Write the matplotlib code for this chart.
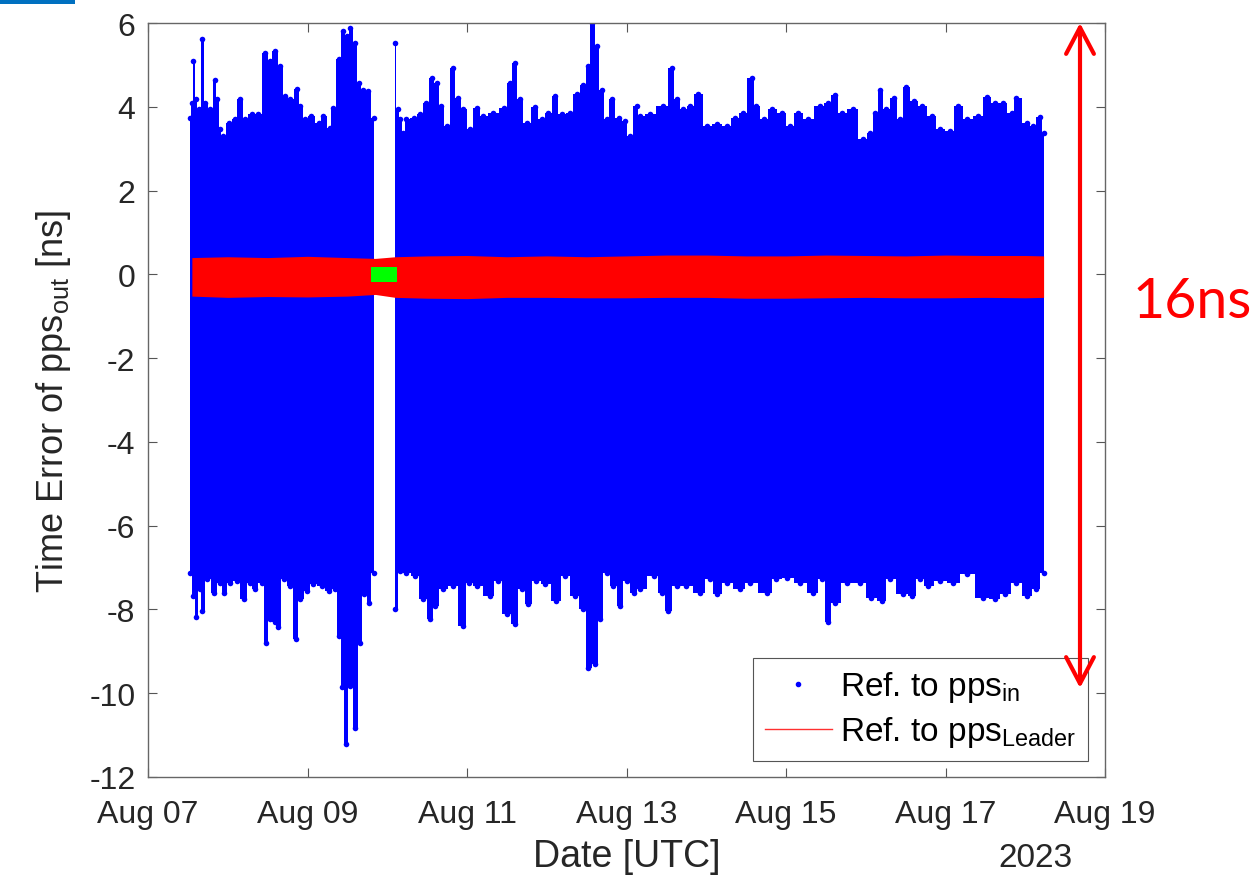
import numpy as np
import matplotlib
matplotlib.use('Agg')
import matplotlib.pyplot as plt
import matplotlib.dates as mdates
from matplotlib.patches import FancyArrowPatch, Rectangle
from matplotlib.lines import Line2D
from datetime import datetime

plt.rcParams['font.family'] = ['Liberation Sans', 'DejaVu Sans']
plt.rcParams['mathtext.fontset'] = 'custom'
plt.rcParams['mathtext.rm'] = 'Liberation Sans'
plt.rcParams['mathtext.it'] = 'Liberation Sans:italic'
plt.rcParams['mathtext.default'] = 'regular'
plt.rcParams['axes.unicode_minus'] = False

# time axis: day of August 2023 (UTC), values in ns
# blue scatter (ref. to pps_in): upper / lower envelope, before and after the data gap
up1_day = [7.53, 7.55, 7.57, 7.60, 7.64, 7.68, 7.72, 7.78, 7.84, 7.87,
           7.90, 7.94, 8.01, 8.09, 8.15, 8.22, 8.30, 8.38, 8.47, 8.53,
           8.59, 8.66, 8.72, 8.78, 8.87, 8.91, 8.97, 9.05, 9.14, 9.20,
           9.28, 9.32, 9.39, 9.45, 9.50, 9.53, 9.60, 9.64, 9.70, 9.76, 9.83]
up1_val = [3.74, 4.10, 5.09, 4.18, 3.94, 5.62, 4.10, 3.94, 4.65, 4.18,
           3.46, 3.30, 3.62, 3.70, 4.18, 3.70, 3.82, 3.82, 5.29, 5.09,
           5.33, 4.97, 4.26, 4.18, 4.43, 4.02, 3.70, 3.78, 3.62, 3.78,
           3.50, 3.98, 5.13, 5.81, 5.69, 5.89, 5.53, 4.57, 4.41, 4.37, 3.74]

up2_day = [10.10, 10.13, 10.16, 10.20, 10.24, 10.33, 10.41, 10.49, 10.56, 10.62,
           10.68, 10.75, 10.82, 10.89, 10.95, 11.04, 11.12, 11.20, 11.33, 11.46,
           11.54, 11.60, 11.66, 11.75, 11.85, 11.94, 12.02, 12.10, 12.19, 12.29,
           12.38, 12.46, 12.52, 12.57, 12.63, 12.69, 12.75, 12.82, 12.90, 12.98,
           13.04, 13.13, 13.17, 13.29, 13.46, 13.57, 13.63, 13.71, 13.80, 13.90,
           14.01, 14.13, 14.26, 14.36, 14.46, 14.57, 14.63, 14.72, 14.82, 14.95,
           15.05, 15.15, 15.28, 15.43, 15.53, 15.61, 15.70, 15.84, 15.97, 16.05,
           16.12, 16.18, 16.26, 16.35, 16.43, 16.51, 16.60, 16.70, 16.83, 16.93,
           17.06, 17.16, 17.27, 17.41, 17.52, 17.62, 17.72, 17.83, 17.89, 18.02,
           18.10, 18.18, 18.23]
up2_val = [5.53, 3.94, 3.70, 3.38, 3.70, 3.74, 3.82, 4.10, 4.69, 4.57,
           4.02, 3.54, 4.93, 4.22, 3.94, 3.46, 3.98, 3.78, 3.86, 3.98,
           4.57, 5.05, 4.18, 3.62, 4.00, 3.70, 3.86, 4.26, 3.82, 3.86,
           4.30, 4.53, 4.97, 6.01, 5.45, 4.41, 3.70, 4.18, 3.74, 3.66,
           3.30, 4.02, 3.78, 3.82, 4.02, 4.93, 4.18, 3.94, 4.02, 4.30,
           3.54, 3.58, 3.54, 3.74, 3.86, 4.69, 4.02, 3.70, 3.94, 3.86,
           3.54, 3.86, 3.70, 4.03, 4.10, 4.27, 3.86, 3.94, 3.22, 3.38,
           3.86, 4.41, 3.94, 4.22, 3.70, 4.48, 4.14, 4.02, 3.78, 3.46,
           3.42, 4.02, 3.70, 3.78, 4.24, 4.10, 4.10, 3.86, 4.22, 3.62,
           3.54, 3.76, 3.38]

lo1_day = [7.53, 7.57, 7.60, 7.65, 7.68, 7.74, 7.83, 7.90, 7.95, 8.03,
           8.11, 8.20, 8.28, 8.34, 8.43, 8.48, 8.53, 8.59, 8.63, 8.70,
           8.78, 8.85, 8.91, 8.99, 9.07, 9.18, 9.27, 9.34, 9.40, 9.43,
           9.48, 9.53, 9.60, 9.66, 9.71, 9.77, 9.83]
lo1_val = [-7.12, -7.68, -8.19, -7.52, -8.04, -7.28, -7.60, -7.36, -7.60, -7.36,
           -7.32, -7.76, -7.36, -7.52, -7.36, -8.79, -8.23, -8.31, -8.43, -7.28,
           -7.44, -8.71, -7.76, -7.56, -7.40, -7.44, -7.56, -7.52, -8.63, -9.86,
           -11.22, -9.82, -10.82, -8.79, -7.64, -7.84, -7.12]

lo2_day = [10.10, 10.16, 10.24, 10.35, 10.45, 10.54, 10.60, 10.70, 10.83, 10.95,
           11.02, 11.12, 11.29, 11.39, 11.50, 11.60, 11.69, 11.77, 11.87, 11.98,
           12.12, 12.23, 12.35, 12.46, 12.52, 12.61, 12.67, 12.75, 12.83, 12.92,
           13.00, 13.09, 13.17, 13.34, 13.44, 13.52, 13.63, 13.75, 13.92, 14.05,
           14.13, 14.26, 14.42, 14.55, 14.76, 14.88, 15.01, 15.18, 15.34, 15.45,
           15.53, 15.61, 15.76, 15.93, 16.07, 16.20, 16.30, 16.47, 16.58, 16.68,
           16.78, 16.93, 17.10, 17.27, 17.47, 17.62, 17.75, 17.89, 18.02, 18.14, 18.23]
lo2_val = [-8.00, -7.08, -7.12, -7.20, -7.76, -8.23, -7.92, -7.52, -7.44, -8.39,
           -7.36, -7.44, -7.68, -7.32, -8.11, -8.35, -7.52, -7.88, -7.32, -7.40,
           -7.80, -7.20, -7.68, -8.00, -9.39, -9.31, -8.23, -7.12, -7.44, -7.92,
           -7.32, -7.60, -7.52, -7.20, -7.60, -8.04, -7.44, -7.44, -7.60, -7.28,
           -7.64, -7.36, -7.52, -7.36, -7.60, -7.28, -7.24, -7.36, -7.60, -7.28,
           -8.31, -7.84, -7.36, -7.36, -7.72, -7.80, -7.28, -7.64, -7.68, -7.28,
           -7.44, -7.32, -7.36, -7.16, -7.72, -7.76, -7.64, -7.36, -7.68, -7.52, -7.12]

# red band (ref. to pps_Leader)
red_day = [7.55, 8.00, 8.50, 9.00, 9.50, 9.85, 10.10, 10.50, 11.00, 11.50, 12.00,
           12.50, 13.00, 13.50, 14.00, 14.50, 15.00, 15.50, 16.00, 16.50, 17.00,
           17.50, 18.00, 18.23]
red_hi = [0.40, 0.42, 0.40, 0.43, 0.40, 0.38, 0.42, 0.44, 0.45, 0.42, 0.44,
          0.42, 0.44, 0.46, 0.46, 0.44, 0.44, 0.46, 0.45, 0.44, 0.46,
          0.45, 0.45, 0.44]
red_lo = [-0.52, -0.55, -0.53, -0.54, -0.52, -0.48, -0.55, -0.57, -0.58, -0.55, -0.55,
          -0.56, -0.56, -0.55, -0.55, -0.57, -0.57, -0.56, -0.55, -0.56, -0.56,
          -0.55, -0.56, -0.55]

# green patch during the gap
green_day = [9.80, 10.12]
green_hi = [0.17, 0.17]
green_lo = [-0.19, -0.19]

yticks = np.arange(-12, 7, 2)
xtick_days = np.arange(7, 20, 2)

aug0 = mdates.date2num(datetime(2023, 7, 31))


def to_num(days):
    return aug0 + np.asarray(days, dtype=float)


W, H = 1254, 879
fig = plt.figure(figsize=(W / 100, H / 100), dpi=100)
ax = fig.add_axes([148 / W, 1 - 778 / H, 957 / W, 754 / H])

blue = '#0000ff'
for t, v in [(up1_day, up1_val), (up2_day, up2_val), (lo1_day, lo1_val), (lo2_day, lo2_val)]:
    ax.fill_between(to_num(t), 0, v, step='mid', color=blue, lw=0, zorder=2)
    ax.scatter(to_num(t), v, s=16, color=blue, lw=0, zorder=2)

ax.fill_between(to_num(red_day), red_lo, red_hi, color='#ff0000', lw=0, zorder=3)
ax.fill_between(to_num(green_day), green_lo, green_hi, color='#00ff00', lw=0, zorder=4)

ax.set_xlim(to_num(7), to_num(19))
ax.set_ylim(-12, 6)
ax.set_xticks(to_num(xtick_days))
ax.set_yticks(yticks)
ax.xaxis.set_major_formatter(mdates.DateFormatter('%b %d'))

for s in ax.spines.values():
    s.set_color('#666666')
    s.set_linewidth(1.0)
ax.tick_params(direction='in', length=6.5, width=0.8, color='#555555',
               labelsize=23, labelcolor='#262626', top=True, right=True)
ax.tick_params(axis='y', pad=9)
ax.tick_params(axis='x', pad=16)

ax.set_ylabel('Time Error of pps$_{out}$ [ns]', fontsize=26, color='#262626')
ax.yaxis.set_label_coords(-0.078, 0.5)
ax.set_xlabel('Date [UTC]', fontsize=27, color='#262626', labelpad=6)
fig.text(1035 / W, 1 - 867 / H, '2023', ha='center', va='baseline',
         fontsize=24, color='#262626')

handles = [Line2D([], [], ls='none', marker='.', ms=6, color=blue),
           Line2D([], [], color='#ff3030', lw=1.0)]
labels = ['Ref. to pps$_{in}$', 'Ref. to pps$_{Leader}$']
leg = ax.legend(handles, labels, loc='lower right', bbox_to_anchor=(0.982, 0.021),
                fontsize=24, frameon=True, fancybox=False, framealpha=1,
                edgecolor='#555555', handlelength=2.0, borderpad=0.35,
                labelspacing=0.3, handletextpad=0.25, borderaxespad=0)
leg.get_frame().set_linewidth(0.8)
leg.set_zorder(10)

# 16 ns span arrow and label outside the axes
arrow = FancyArrowPatch((1080 / W, 1 - 24 / H), (1080 / W, 1 - 689 / H),
                        transform=fig.transFigure, arrowstyle='<->,head_length=0.95,head_width=0.5',
                        mutation_scale=20, color='#ff0000', lw=3, shrinkA=0, shrinkB=0)
fig.add_artist(arrow)
fig.text(1133 / W, 1 - 318 / H, '16ns', color='#ff0000', fontsize=40,
         family=['Lato', 'DejaVu Sans'], ha='left', va='baseline')

fig.add_artist(Rectangle((0, 1 - 5 / H), 75 / W, 5 / H, transform=fig.transFigure,
                         color='#0070c0', lw=0))

fig.savefig('out.png', dpi=100)
